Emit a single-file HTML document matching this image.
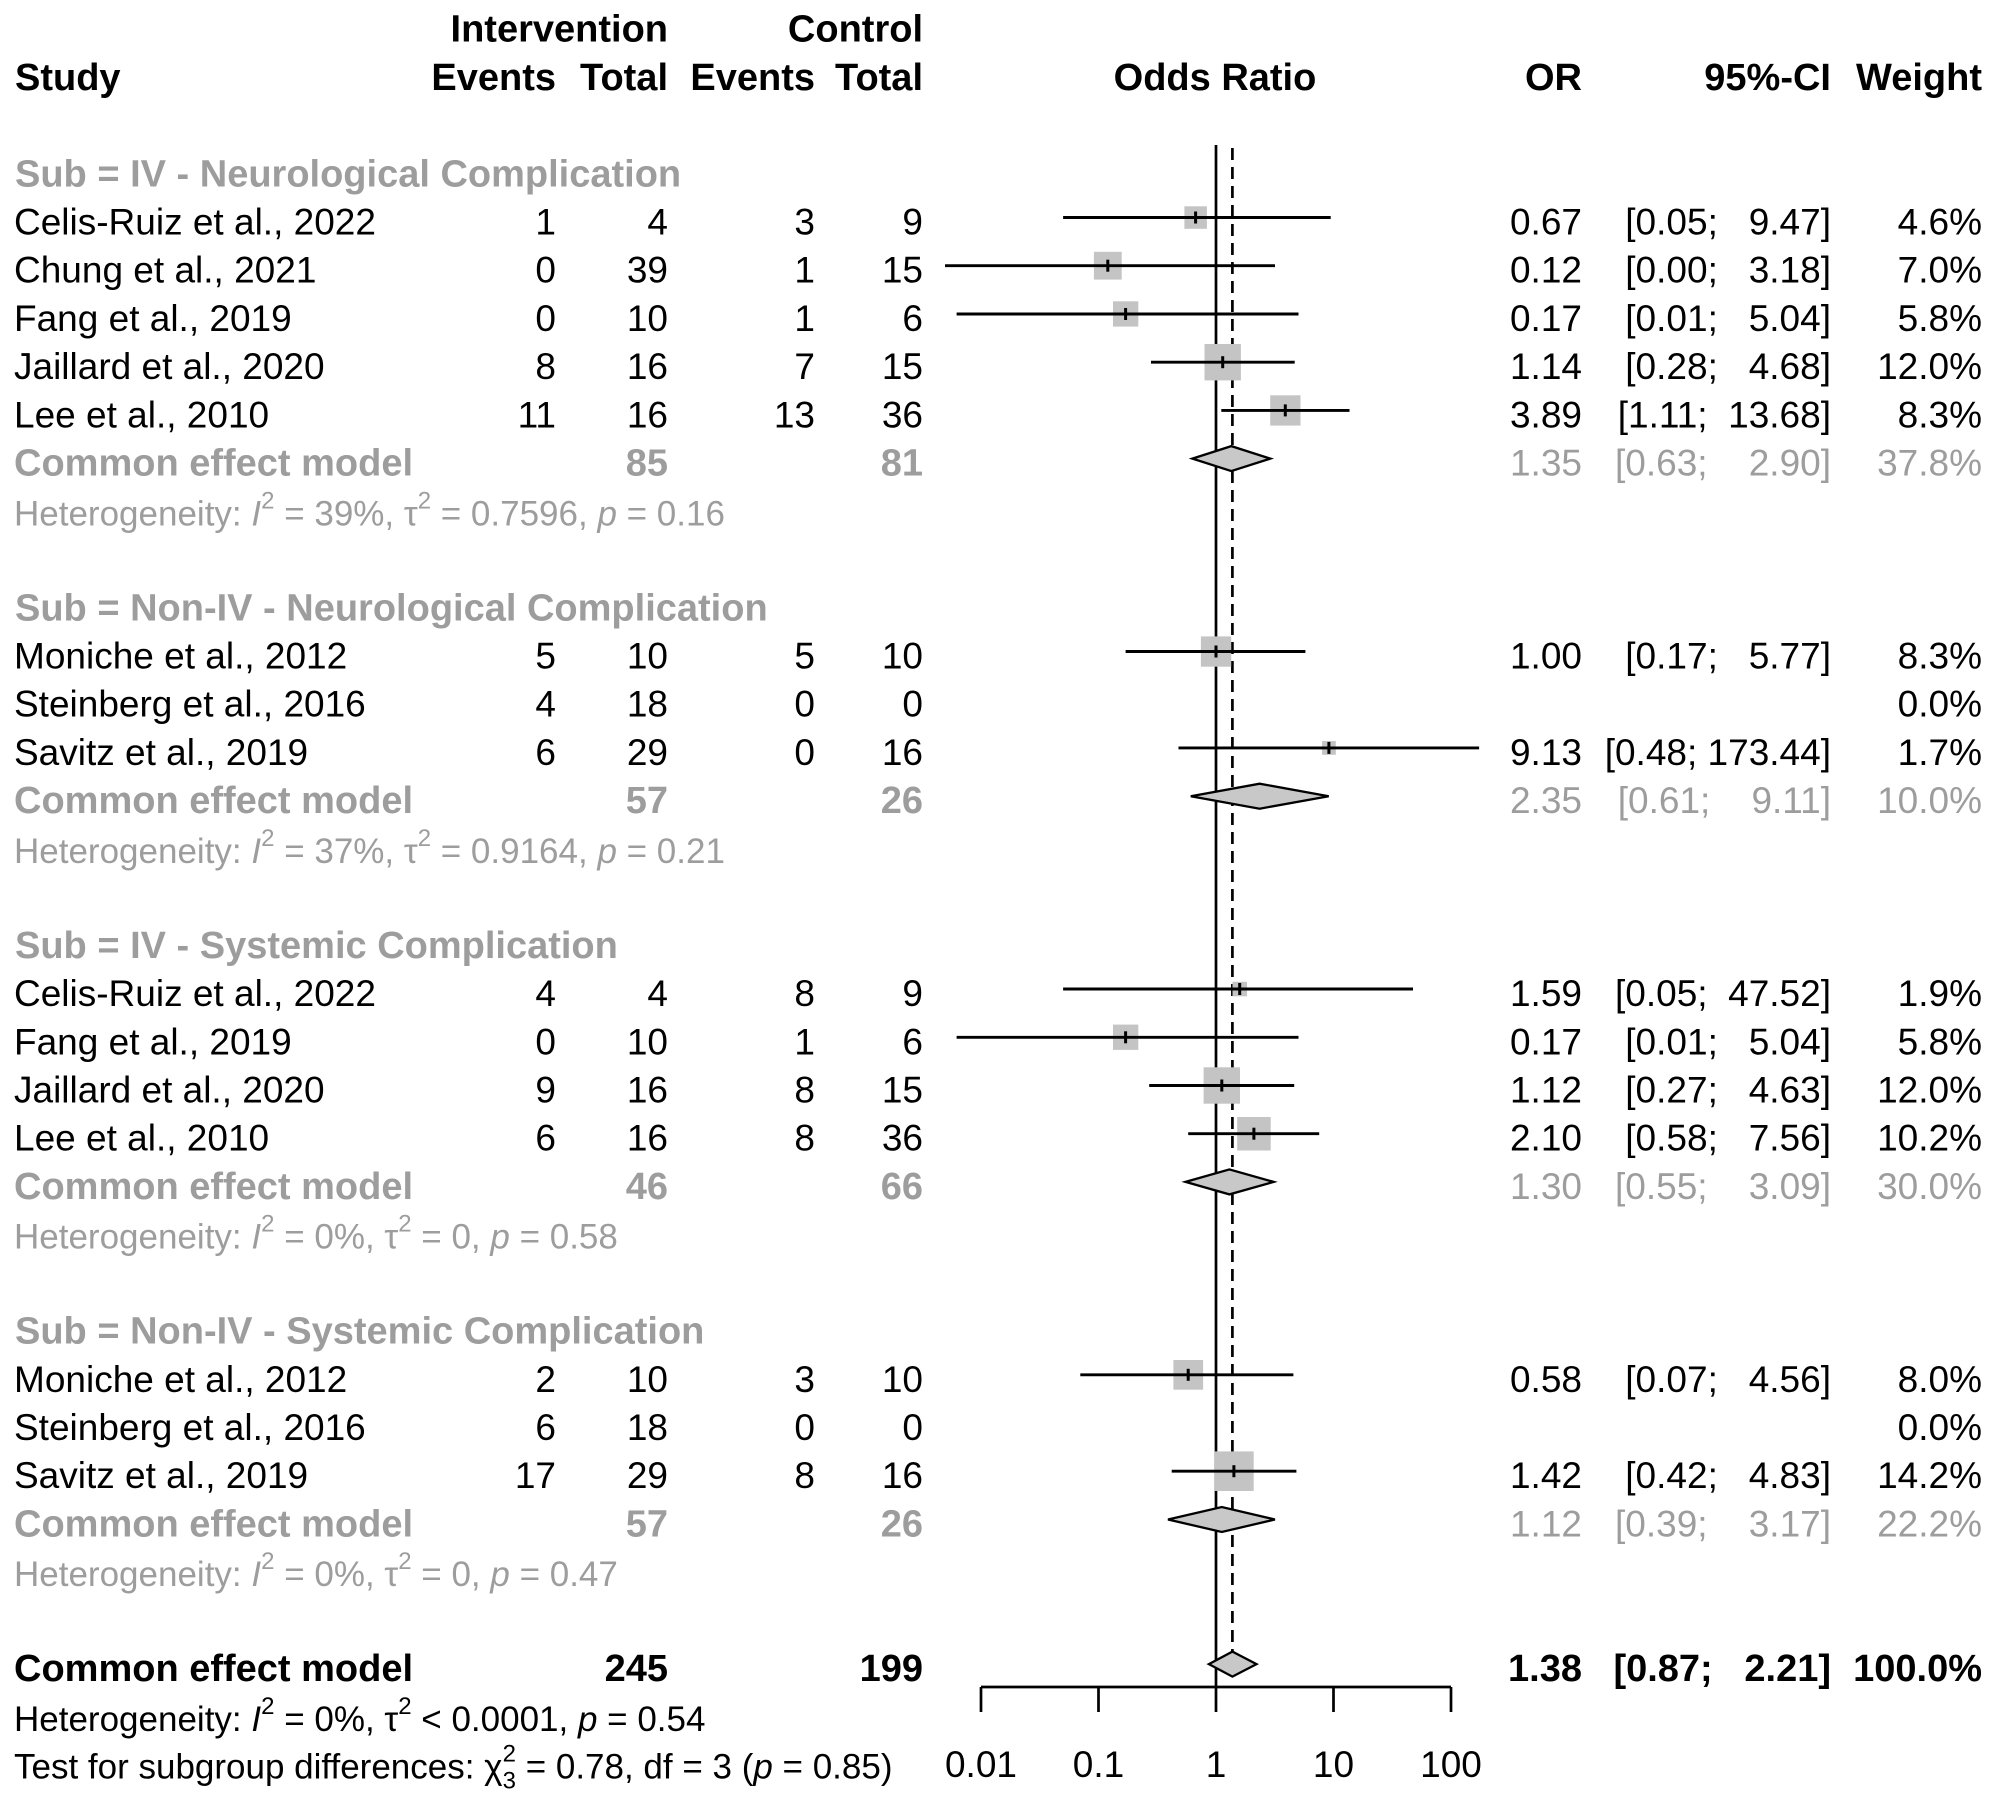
<!DOCTYPE html>
<html><head><meta charset="utf-8"><style>
html,body{margin:0;padding:0;background:#fff;}
svg{display:block;}
text{font-family:"Liberation Sans",Arial,sans-serif;font-size:37px;fill:#000;}
.b{font-weight:bold;font-size:38px;}
.g{fill:#9d9d9d;}
.h{font-size:35px;}
.e{text-anchor:end;}
.m{text-anchor:middle;}
.pre{white-space:pre;}
</style></head><body>
<svg width="1999" height="1801" viewBox="0 0 1999 1801" xmlns="http://www.w3.org/2000/svg">
<rect width="1999" height="1801" fill="#fff"/>

<!-- reference lines -->
<line x1="1216" y1="145" x2="1216" y2="1687" stroke="#000" stroke-width="2.7"/>
<line x1="1232.4" y1="148" x2="1232.4" y2="1652" stroke="#000" stroke-width="2.7" stroke-dasharray="12 7"/>

<!-- axis -->
<g stroke="#000" stroke-width="2.7">
<line x1="981" y1="1687" x2="1451" y2="1687"/>
<line x1="981" y1="1687" x2="981" y2="1712"/>
<line x1="1098.5" y1="1687" x2="1098.5" y2="1712"/>
<line x1="1216" y1="1687" x2="1216" y2="1712"/>
<line x1="1333.5" y1="1687" x2="1333.5" y2="1712"/>
<line x1="1451" y1="1687" x2="1451" y2="1712"/>
</g>
<text class="m" x="981" y="1777">0.01</text>
<text class="m" x="1098.5" y="1777">0.1</text>
<text class="m" x="1216" y="1777">1</text>
<text class="m" x="1333.5" y="1777">10</text>
<text class="m" x="1451" y="1777">100</text>

<!-- boxes -->
<g fill="#c4c4c4">
<rect x="1184.4" y="206.3" width="22.5" height="22.5"/>
<rect x="1093.9" y="251.8" width="27.8" height="27.8"/>
<rect x="1113.0" y="301.3" width="25.3" height="25.3"/>
<rect x="1204.5" y="344.0" width="36.4" height="36.4"/>
<rect x="1270.2" y="395.3" width="30.3" height="30.3"/>
<rect x="1200.9" y="636.4" width="30.3" height="30.3"/>
<rect x="1322.1" y="741.1" width="13.7" height="13.7"/>
<rect x="1232.5" y="981.8" width="14.5" height="14.5"/>
<rect x="1113.0" y="1024.6" width="25.3" height="25.3"/>
<rect x="1203.6" y="1067.3" width="36.4" height="36.4"/>
<rect x="1237.2" y="1117.0" width="33.5" height="33.5"/>
<rect x="1173.4" y="1360.0" width="29.7" height="29.7"/>
<rect x="1214.1" y="1451.4" width="39.6" height="39.6"/>
</g>

<!-- CI lines -->
<g stroke="#000" stroke-width="2.9">
<line x1="1063.1" y1="217.5" x2="1330.7" y2="217.5"/>
<line x1="945" y1="265.7" x2="1275.0" y2="265.7"/>
<line x1="956.6" y1="314.0" x2="1298.5" y2="314.0"/>
<line x1="1151.0" y1="362.2" x2="1294.7" y2="362.2"/>
<line x1="1221.3" y1="410.4" x2="1349.5" y2="410.4"/>
<line x1="1125.6" y1="651.5" x2="1305.4" y2="651.5"/>
<line x1="1178.5" y1="747.9" x2="1479.1" y2="747.9"/>
<line x1="1063.1" y1="989.0" x2="1413.0" y2="989.0"/>
<line x1="956.6" y1="1037.3" x2="1298.5" y2="1037.3"/>
<line x1="1149.2" y1="1085.5" x2="1294.2" y2="1085.5"/>
<line x1="1188.2" y1="1133.7" x2="1319.2" y2="1133.7"/>
<line x1="1080.3" y1="1374.8" x2="1293.4" y2="1374.8"/>
<line x1="1171.7" y1="1471.2" x2="1296.4" y2="1471.2"/>
</g>
<!-- point ticks -->
<g stroke="#000" stroke-width="3">
<line x1="1195.6" y1="211.5" x2="1195.6" y2="223.5"/>
<line x1="1107.8" y1="259.7" x2="1107.8" y2="271.7"/>
<line x1="1125.6" y1="308.0" x2="1125.6" y2="320.0"/>
<line x1="1222.7" y1="356.2" x2="1222.7" y2="368.2"/>
<line x1="1285.3" y1="404.4" x2="1285.3" y2="416.4"/>
<line x1="1216" y1="645.5" x2="1216" y2="657.5"/>
<line x1="1328.9" y1="741.9" x2="1328.9" y2="753.9"/>
<line x1="1239.7" y1="983.0" x2="1239.7" y2="995.0"/>
<line x1="1125.6" y1="1031.3" x2="1125.6" y2="1043.3"/>
<line x1="1221.8" y1="1079.5" x2="1221.8" y2="1091.5"/>
<line x1="1253.9" y1="1127.7" x2="1253.9" y2="1139.7"/>
<line x1="1188.2" y1="1368.8" x2="1188.2" y2="1380.8"/>
<line x1="1233.9" y1="1465.2" x2="1233.9" y2="1477.2"/>
</g>

<!-- diamonds -->
<g fill="#c8c8c8" stroke="#000" stroke-width="2.3">
<polygon points="1192.4,458.6 1231.3,446.1 1270.3,458.6 1231.3,471.1"/>
<polygon points="1190.8,796.2 1259.6,783.7 1328.7,796.2 1259.6,808.7"/>
<polygon points="1185.5,1181.9 1229.4,1169.4 1273.6,1181.9 1229.4,1194.4"/>
<polygon points="1168.0,1519.5 1221.8,1507.0 1274.9,1519.5 1221.8,1532.0"/>
<polygon points="1208.9,1664.1 1232.4,1651.6 1256.5,1664.1 1232.4,1676.6"/>
</g>

<!-- headers -->
<text class="b e" x="668" y="41.6">Intervention</text>
<text class="b e" x="923" y="41.6">Control</text>
<text class="b" x="15" y="89.9">Study</text>
<text class="b e" x="556" y="89.9">Events</text>
<text class="b e" x="668" y="89.9">Total</text>
<text class="b e" x="815" y="89.9">Events</text>
<text class="b e" x="923" y="89.9">Total</text>
<text class="b m" x="1215" y="89.9">Odds Ratio</text>
<text class="b e" x="1582" y="89.9">OR</text>
<text class="b e" x="1831" y="89.9">95%-CI</text>
<text class="b e" x="1982" y="89.9">Weight</text>

<!-- Group 1 -->
<text class="b g" x="15" y="186.3">Sub = IV - Neurological Complication</text>

<text x="14" y="234.5">Celis-Ruiz et al., 2022</text>
<text class="e" x="556" y="234.5">1</text><text class="e" x="668" y="234.5">4</text><text class="e" x="815" y="234.5">3</text><text class="e" x="923" y="234.5">9</text>
<text class="e" x="1582" y="234.5">0.67</text><text class="e pre" xml:space="preserve" x="1831" y="234.5">[0.05;   9.47]</text><text class="e" x="1982" y="234.5">4.6%</text>

<text x="14" y="282.7">Chung et al., 2021</text>
<text class="e" x="556" y="282.7">0</text><text class="e" x="668" y="282.7">39</text><text class="e" x="815" y="282.7">1</text><text class="e" x="923" y="282.7">15</text>
<text class="e" x="1582" y="282.7">0.12</text><text class="e pre" xml:space="preserve" x="1831" y="282.7">[0.00;   3.18]</text><text class="e" x="1982" y="282.7">7.0%</text>

<text x="14" y="331.0">Fang et al., 2019</text>
<text class="e" x="556" y="331.0">0</text><text class="e" x="668" y="331.0">10</text><text class="e" x="815" y="331.0">1</text><text class="e" x="923" y="331.0">6</text>
<text class="e" x="1582" y="331.0">0.17</text><text class="e pre" xml:space="preserve" x="1831" y="331.0">[0.01;   5.04]</text><text class="e" x="1982" y="331.0">5.8%</text>

<text x="14" y="379.2">Jaillard et al., 2020</text>
<text class="e" x="556" y="379.2">8</text><text class="e" x="668" y="379.2">16</text><text class="e" x="815" y="379.2">7</text><text class="e" x="923" y="379.2">15</text>
<text class="e" x="1582" y="379.2">1.14</text><text class="e pre" xml:space="preserve" x="1831" y="379.2">[0.28;   4.68]</text><text class="e" x="1982" y="379.2">12.0%</text>

<text x="14" y="427.4">Lee et al., 2010</text>
<text class="e" x="556" y="427.4">11</text><text class="e" x="668" y="427.4">16</text><text class="e" x="815" y="427.4">13</text><text class="e" x="923" y="427.4">36</text>
<text class="e" x="1582" y="427.4">3.89</text><text class="e pre" xml:space="preserve" x="1831" y="427.4">[1.11;  13.68]</text><text class="e" x="1982" y="427.4">8.3%</text>

<text class="b g" x="14" y="475.6">Common effect model</text>
<text class="b g e" x="668" y="475.6">85</text><text class="b g e" x="923" y="475.6">81</text>
<text class="g e" x="1582" y="475.6">1.35</text><text class="g e pre" xml:space="preserve" x="1831" y="475.6">[0.63;    2.90]</text><text class="g e" x="1982" y="475.6">37.8%</text>

<text class="h g" x="14" y="525.3">Heterogeneity: <tspan font-style="italic">I</tspan><tspan font-size="24" dy="-17">2</tspan><tspan dy="17"> = 39%, τ</tspan><tspan font-size="24" dy="-17">2</tspan><tspan dy="17"> = 0.7596, </tspan><tspan font-style="italic">p</tspan> = 0.16</text>

<!-- Group 2 -->
<text class="b g" x="15" y="620.3">Sub = Non-IV - Neurological Complication</text>

<text x="14" y="668.5">Moniche et al., 2012</text>
<text class="e" x="556" y="668.5">5</text><text class="e" x="668" y="668.5">10</text><text class="e" x="815" y="668.5">5</text><text class="e" x="923" y="668.5">10</text>
<text class="e" x="1582" y="668.5">1.00</text><text class="e pre" xml:space="preserve" x="1831" y="668.5">[0.17;   5.77]</text><text class="e" x="1982" y="668.5">8.3%</text>

<text x="14" y="716.7">Steinberg et al., 2016</text>
<text class="e" x="556" y="716.7">4</text><text class="e" x="668" y="716.7">18</text><text class="e" x="815" y="716.7">0</text><text class="e" x="923" y="716.7">0</text>
<text class="e" x="1982" y="716.7">0.0%</text>

<text x="14" y="764.9">Savitz et al., 2019</text>
<text class="e" x="556" y="764.9">6</text><text class="e" x="668" y="764.9">29</text><text class="e" x="815" y="764.9">0</text><text class="e" x="923" y="764.9">16</text>
<text class="e" x="1582" y="764.9">9.13</text><text class="e pre" xml:space="preserve" x="1831" y="764.9">[0.48; 173.44]</text><text class="e" x="1982" y="764.9">1.7%</text>

<text class="b g" x="14" y="813.2">Common effect model</text>
<text class="b g e" x="668" y="813.2">57</text><text class="b g e" x="923" y="813.2">26</text>
<text class="g e" x="1582" y="813.2">2.35</text><text class="g e pre" xml:space="preserve" x="1831" y="813.2">[0.61;    9.11]</text><text class="g e" x="1982" y="813.2">10.0%</text>

<text class="h g" x="14" y="862.9">Heterogeneity: <tspan font-style="italic">I</tspan><tspan font-size="24" dy="-17">2</tspan><tspan dy="17"> = 37%, τ</tspan><tspan font-size="24" dy="-17">2</tspan><tspan dy="17"> = 0.9164, </tspan><tspan font-style="italic">p</tspan> = 0.21</text>

<!-- Group 3 -->
<text class="b g" x="15" y="957.8">Sub = IV - Systemic Complication</text>

<text x="14" y="1006.0">Celis-Ruiz et al., 2022</text>
<text class="e" x="556" y="1006.0">4</text><text class="e" x="668" y="1006.0">4</text><text class="e" x="815" y="1006.0">8</text><text class="e" x="923" y="1006.0">9</text>
<text class="e" x="1582" y="1006.0">1.59</text><text class="e pre" xml:space="preserve" x="1831" y="1006.0">[0.05;  47.52]</text><text class="e" x="1982" y="1006.0">1.9%</text>

<text x="14" y="1054.3">Fang et al., 2019</text>
<text class="e" x="556" y="1054.3">0</text><text class="e" x="668" y="1054.3">10</text><text class="e" x="815" y="1054.3">1</text><text class="e" x="923" y="1054.3">6</text>
<text class="e" x="1582" y="1054.3">0.17</text><text class="e pre" xml:space="preserve" x="1831" y="1054.3">[0.01;   5.04]</text><text class="e" x="1982" y="1054.3">5.8%</text>

<text x="14" y="1102.5">Jaillard et al., 2020</text>
<text class="e" x="556" y="1102.5">9</text><text class="e" x="668" y="1102.5">16</text><text class="e" x="815" y="1102.5">8</text><text class="e" x="923" y="1102.5">15</text>
<text class="e" x="1582" y="1102.5">1.12</text><text class="e pre" xml:space="preserve" x="1831" y="1102.5">[0.27;   4.63]</text><text class="e" x="1982" y="1102.5">12.0%</text>

<text x="14" y="1150.7">Lee et al., 2010</text>
<text class="e" x="556" y="1150.7">6</text><text class="e" x="668" y="1150.7">16</text><text class="e" x="815" y="1150.7">8</text><text class="e" x="923" y="1150.7">36</text>
<text class="e" x="1582" y="1150.7">2.10</text><text class="e pre" xml:space="preserve" x="1831" y="1150.7">[0.58;   7.56]</text><text class="e" x="1982" y="1150.7">10.2%</text>

<text class="b g" x="14" y="1198.9">Common effect model</text>
<text class="b g e" x="668" y="1198.9">46</text><text class="b g e" x="923" y="1198.9">66</text>
<text class="g e" x="1582" y="1198.9">1.30</text><text class="g e pre" xml:space="preserve" x="1831" y="1198.9">[0.55;    3.09]</text><text class="g e" x="1982" y="1198.9">30.0%</text>

<text class="h g" x="14" y="1248.6">Heterogeneity: <tspan font-style="italic">I</tspan><tspan font-size="24" dy="-17">2</tspan><tspan dy="17"> = 0%, τ</tspan><tspan font-size="24" dy="-17">2</tspan><tspan dy="17"> = 0, </tspan><tspan font-style="italic">p</tspan> = 0.58</text>

<!-- Group 4 -->
<text class="b g" x="15" y="1343.6">Sub = Non-IV - Systemic Complication</text>

<text x="14" y="1391.8">Moniche et al., 2012</text>
<text class="e" x="556" y="1391.8">2</text><text class="e" x="668" y="1391.8">10</text><text class="e" x="815" y="1391.8">3</text><text class="e" x="923" y="1391.8">10</text>
<text class="e" x="1582" y="1391.8">0.58</text><text class="e pre" xml:space="preserve" x="1831" y="1391.8">[0.07;   4.56]</text><text class="e" x="1982" y="1391.8">8.0%</text>

<text x="14" y="1440.0">Steinberg et al., 2016</text>
<text class="e" x="556" y="1440.0">6</text><text class="e" x="668" y="1440.0">18</text><text class="e" x="815" y="1440.0">0</text><text class="e" x="923" y="1440.0">0</text>
<text class="e" x="1982" y="1440.0">0.0%</text>

<text x="14" y="1488.2">Savitz et al., 2019</text>
<text class="e" x="556" y="1488.2">17</text><text class="e" x="668" y="1488.2">29</text><text class="e" x="815" y="1488.2">8</text><text class="e" x="923" y="1488.2">16</text>
<text class="e" x="1582" y="1488.2">1.42</text><text class="e pre" xml:space="preserve" x="1831" y="1488.2">[0.42;   4.83]</text><text class="e" x="1982" y="1488.2">14.2%</text>

<text class="b g" x="14" y="1536.5">Common effect model</text>
<text class="b g e" x="668" y="1536.5">57</text><text class="b g e" x="923" y="1536.5">26</text>
<text class="g e" x="1582" y="1536.5">1.12</text><text class="g e pre" xml:space="preserve" x="1831" y="1536.5">[0.39;    3.17]</text><text class="g e" x="1982" y="1536.5">22.2%</text>

<text class="h g" x="14" y="1586.2">Heterogeneity: <tspan font-style="italic">I</tspan><tspan font-size="24" dy="-17">2</tspan><tspan dy="17"> = 0%, τ</tspan><tspan font-size="24" dy="-17">2</tspan><tspan dy="17"> = 0, </tspan><tspan font-style="italic">p</tspan> = 0.47</text>

<!-- Overall -->
<text class="b" x="14" y="1681.1">Common effect model</text>
<text class="b e" x="668" y="1681.1">245</text><text class="b e" x="923" y="1681.1">199</text>
<text class="b e" x="1582" y="1681.1">1.38</text><text class="b e pre" xml:space="preserve" x="1831" y="1681.1">[0.87;   2.21]</text><text class="b e" x="1982" y="1681.1">100.0%</text>

<text class="h" x="14" y="1730.8">Heterogeneity: <tspan font-style="italic">I</tspan><tspan font-size="24" dy="-17">2</tspan><tspan dy="17"> = 0%, τ</tspan><tspan font-size="24" dy="-17">2</tspan><tspan dy="17"> &lt; 0.0001, </tspan><tspan font-style="italic">p</tspan> = 0.54</text>

<text class="h" x="14" y="1778.6">Test for subgroup differences: χ<tspan font-size="24" dy="-17">2</tspan><tspan font-size="24" dx="-13.3" dy="27">3</tspan><tspan dy="-10"> = 0.78, df = 3 (</tspan><tspan font-style="italic">p</tspan> = 0.85)</text>
</svg>
</body></html>
